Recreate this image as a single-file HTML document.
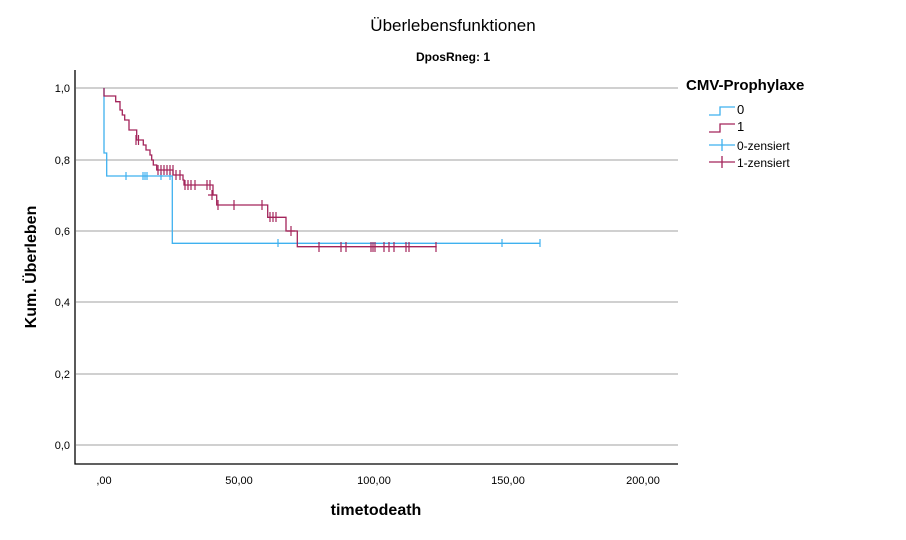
<!DOCTYPE html><html><head><style>body{margin:0;background:#fff}text{font-family:"Liberation Sans",sans-serif}</style></head><body>
<svg width="906" height="535" xmlns="http://www.w3.org/2000/svg">
<rect width="906" height="535" fill="#fff"/>
<text x="453" y="31" font-size="17" text-anchor="middle">Überlebensfunktionen</text>
<text x="453" y="61" font-size="12" font-weight="bold" text-anchor="middle">DposRneg: 1</text>
<g stroke="#b4b4b4" stroke-width="1.2">
<line x1="76" x2="678" y1="88" y2="88"/><line x1="76" x2="678" y1="160" y2="160"/><line x1="76" x2="678" y1="231" y2="231"/><line x1="76" x2="678" y1="302" y2="302"/><line x1="76" x2="678" y1="374" y2="374"/><line x1="76" x2="678" y1="445" y2="445"/></g>
<path d="M75,70V464H678" fill="none" stroke="#000" stroke-width="1.3"/>
<g font-size="11" text-anchor="end"><text x="70" y="92">1,0</text><text x="70" y="164">0,8</text><text x="70" y="235">0,6</text><text x="70" y="306">0,4</text><text x="70" y="378">0,2</text><text x="70" y="449">0,0</text></g>
<g font-size="11" text-anchor="middle"><text x="104" y="484">,00</text><text x="239" y="484">50,00</text><text x="374" y="484">100,00</text><text x="508" y="484">150,00</text><text x="643" y="484">200,00</text></g>
<text x="376" y="515" font-size="16" font-weight="bold" text-anchor="middle">timetodeath</text>
<text transform="translate(36,267) rotate(-90)" font-size="16" font-weight="bold" text-anchor="middle">Kum. Überleben</text>
<path d="M104,88V153H106.7V176H172.3V243.3H540" fill="none" stroke="#3fb1ef" stroke-width="1.3"/>
<path d="M104,88V96H115.7V101.7H120V110H122.3V115H124.7V120H129V130H136.7V140H143.3V145H146V150H150V155H151.7V160H153.3V165H156.7V170H173V175H183V180H184V185H213V195H216.7V205H267.7V217.3H286V231H297.3V246.7H436.7" fill="none" stroke="#a3245a" stroke-width="1.3"/>
<g stroke="#3fb1ef" stroke-width="1.2">
<path d="M126,172v8M143,172v8M145,172v8M147,172v8M161,172v8M170,172v8M278,239v8M502,239v8M540,239v8"/></g>
<g stroke="#a3245a" stroke-width="1.2">
<path d="M136,135v10M138.5,135v10M158,165v10M161,165v10M164,165v10M167,165v10M170,165v10M173,165v10M176,170v10M180,170v10M185,180v10M188,180v10M191,180v10M195,180v10M207,180v10M210,180v10M212,190v10M208,195h8M218,200v10M234,200v10M262,200v10M270,212v10M273,212v10M276,212v10M291,226v10M287,231h8M319,242v10M341,242v10M346,242v10M371,242v10M373,242v10M375,242v10M384,242v10M389,242v10M394,242v10M406,242v10M409,242v10M436,242v10"/></g>
<text x="686" y="90" font-size="15" font-weight="bold">CMV-Prophylaxe</text>
<path d="M709,115H720V107H735" fill="none" stroke="#3fb1ef" stroke-width="1.3"/>
<text x="737" y="114" font-size="13">0</text>
<path d="M709,132H720V124H735" fill="none" stroke="#a3245a" stroke-width="1.3"/>
<text x="737" y="131" font-size="13">1</text>
<path d="M709,145H735M722,139V151" stroke="#3fb1ef" stroke-width="1.3"/>
<text x="737" y="150" font-size="12">0-zensiert</text>
<path d="M709,162H735M722,156V168" stroke="#a3245a" stroke-width="1.3"/>
<text x="737" y="167" font-size="12">1-zensiert</text>
</svg></body></html>
